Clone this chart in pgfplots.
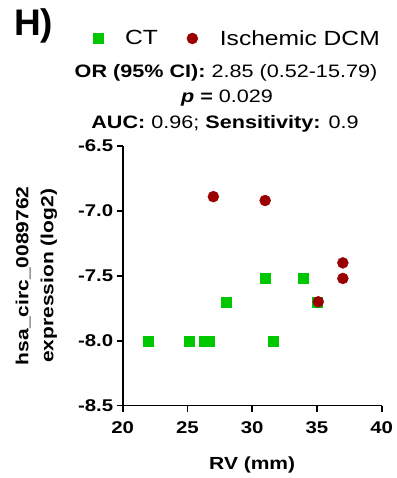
\documentclass[border=0pt]{standalone}
\usepackage{pgfplots}
\pgfplotsset{compat=1.18}
\usepackage{fontspec}
\setmainfont{Liberation Sans}[FakeStretch=1.2]
\newfontfamily\hfont{Liberation Sans}
\definecolor{ctgreen}{RGB}{0,200,0}
\definecolor{dcmred}{RGB}{155,0,0}
\begin{document}
\begin{tikzpicture}[x=1pt,y=1pt]
\path (0,0) rectangle (393,478);
\begin{axis}[
  at={(122.7pt,72.3pt)}, anchor=south west,
  scale only axis, width=259pt, height=259.7pt,
  xmin=20, xmax=40, ymin=-8.5, ymax=-6.5,
  axis x line*=bottom, axis y line*=left,
  axis line style={line width=1.6pt},
  every tick/.style={line width=1.6pt, black},
  tick align=outside, major tick length=6pt,
  xtick={20,25,30,35,40},
  ytick={-8.5,-8,-7.5,-7,-6.5},
  yticklabels={-8.5,-8.0,-7.5,-7.0,-6.5},
  minor tick num=0,
  /pgf/number format/assume math mode=true,
  ticklabel style={font=\fontsize{17}{20}\selectfont\bfseries},
  xticklabel style={yshift=-6pt},
  xlabel={RV (mm)},
  xlabel style={font=\fontsize{17.5}{21}\selectfont\bfseries, at={(axis description cs:0.5,-0.228)}, anchor=center},
  ylabel={hsa\_circ\_0089762\\expression (log2)},
  ylabel style={font=\fontsize{17.5}{25}\selectfont\bfseries, align=center, at={(axis description cs:-0.333,0.5)}, anchor=center},
  legend columns=2,
  legend style={at={(axis description cs:0.443,1.414)}, anchor=center, draw=none, fill=none,
    font=\fontsize{20.5}{24}\selectfont,
    /tikz/every odd column/.append style={column sep=20pt},
    /tikz/every even column/.append style={column sep=27pt}},
  legend cell align=left,
  clip=false,
]
\addplot[only marks, mark=square*, mark size=5pt, color=ctgreen] coordinates {
  (22,-8.0) (25.1,-8.0) (26.3,-8.0) (26.7,-8.0) (28.0,-7.7) (31.0,-7.52) (31.6,-8.0) (33.9,-7.52) (35.0,-7.7)
};
\addlegendentry{CT}
\addplot[only marks, mark=*, mark size=5.5pt, color=dcmred] coordinates {
  (27.0,-6.89) (31.0,-6.92) (35.1,-7.7) (37.0,-7.40) (37.0,-7.52)
};
\addlegendentry{Ischemic DCM}
\end{axis}
\node[anchor=base west, font=\hfont\fontsize{37}{40}\selectfont\bfseries, inner sep=0] at (14,442) {H)};
\node[font=\fontsize{18}{22}\selectfont, inner sep=0] at (226,405) {\textbf{OR (95\% CI):} 2.85 (0.52-15.79)};
\node[font=\fontsize{18}{22}\selectfont, inner sep=0] at (227,380) {\textbf{\textit{p}} \textbf{=} 0.029};
\node[font=\fontsize{18}{22}\selectfont, inner sep=0] at (225,354) {\textbf{AUC:} 0.96; \textbf{Sensitivity:} 0.9};
\end{tikzpicture}
\end{document}
